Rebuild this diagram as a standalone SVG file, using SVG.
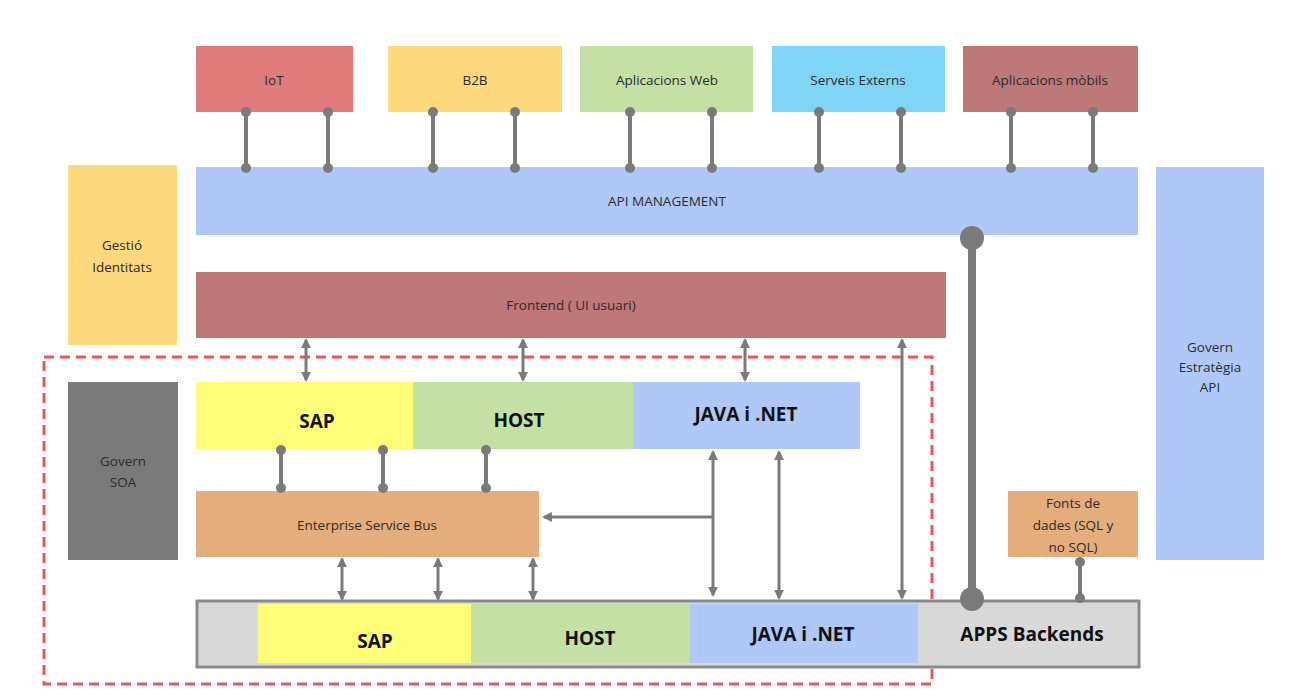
<svg xmlns="http://www.w3.org/2000/svg" width="1295" height="697" viewBox="0 0 1295 697">
<defs>
<style>
.t{font-family:"Open Sans","Liberation Sans",sans-serif;font-size:13.5px;fill:#2b2b2b;text-anchor:middle}
.b{font-family:"Open Sans","Liberation Sans",sans-serif;font-size:19px;font-weight:bold;fill:#111;text-anchor:middle}
.ln{stroke:#7a7a7a;stroke-width:4;fill:none}
.dot{fill:#7a7a7a}
.da{stroke:#7a7a7a;stroke-width:3;fill:none;marker-start:url(#ah);marker-end:url(#ah)}
</style>
<marker id="ah" viewBox="0 0 10 10" refX="8" refY="5" markerWidth="3.3" markerHeight="3.3" orient="auto-start-reverse"><path d="M0,0 L10,5 L0,10 z" fill="#7a7a7a"/></marker>
</defs>
<rect width="1295" height="697" fill="#fff"/>
<rect x="44" y="357" width="888" height="327" fill="none" stroke="#f0545c" stroke-width="3" stroke-dasharray="10,6"/>

<g id="iot"><rect x="196" y="46" width="157" height="66" fill="#e07b7b"/><text class="t" x="274" y="85">IoT</text></g>
<g id="b2b"><rect x="388" y="46" width="174" height="66" fill="#fdd87c"/><text class="t" x="475" y="85">B2B</text></g>
<g id="web"><rect x="580" y="46" width="173" height="66" fill="#c5e0a5"/><text class="t" x="667" y="85">Aplicacions Web</text></g>
<g id="serveis"><rect x="772" y="46" width="173" height="66" fill="#7fd5f5"/><text class="t" x="858" y="85">Serveis Externs</text></g>
<g id="mobils"><rect x="963" y="46" width="175" height="66" fill="#bf7878"/><text class="t" x="1050" y="85">Aplicacions mòbils</text></g>
<g id="api"><rect x="196" y="167" width="942" height="68" fill="#b0c8f8"/><text class="t" x="667" y="206">API MANAGEMENT</text></g>
<g id="gestio"><rect x="68" y="165" width="109" height="180" fill="#fdd87c"/><text class="t" x="122" y="250">Gestió</text><text class="t" x="122" y="272">Identitats</text></g>
<g id="governapi"><rect x="1156" y="167" width="108" height="393" fill="#b0c8f8"/><text class="t" x="1210" y="352">Govern</text><text class="t" x="1210" y="372">Estratègia</text><text class="t" x="1210" y="392">API</text></g>
<g id="frontend"><rect x="196" y="272" width="750" height="66" fill="#bf7878"/><text class="t" x="571" y="310">Frontend ( UI usuari)</text></g>
<g id="governsoa"><rect x="68" y="382" width="110" height="178" fill="#7a7a7a"/><text class="t" x="123" y="466">Govern</text><text class="t" x="123" y="487">SOA</text></g>
<g id="sap1"><rect x="196" y="382" width="217" height="67" fill="#fdfd78"/><text class="b" x="317" y="428">SAP</text></g>
<g id="host1"><rect x="413" y="382" width="220" height="67" fill="#c5e0a5"/><text class="b" x="519" y="427">HOST</text></g>
<g id="java1"><rect x="633" y="382" width="227" height="67" fill="#b0c8f8"/><text class="b" x="746" y="421">JAVA i .NET</text></g>
<g id="esb"><rect x="196" y="491" width="343" height="66" fill="#e3ad7c"/><text class="t" x="367" y="530">Enterprise Service Bus</text></g>
<g id="fonts"><rect x="1008" y="491" width="130" height="66" fill="#e3ad7c"/><text class="t" x="1073" y="508">Fonts de</text><text class="t" x="1073" y="530">dades (SQL y</text><text class="t" x="1073" y="552">no SQL)</text></g>
<g id="backends"><rect x="197" y="601" width="942" height="66" fill="#d9d9d9" stroke="#8a8a8a" stroke-width="3"/>
<rect x="258" y="604" width="213" height="59" fill="#fdfd78"/><text class="b" x="375" y="648">SAP</text>
<rect x="471" y="604" width="219" height="59" fill="#c5e0a5"/><text class="b" x="590" y="645">HOST</text>
<rect x="690" y="604" width="228" height="59" fill="#b0c8f8"/><text class="b" x="803" y="641">JAVA i .NET</text>
<text class="b" x="1032" y="641">APPS Backends</text></g>

<g id="connectors">
<g class="ln">
<path d="M246,112V168M328,112V168M433,112V168M515,112V168M630,112V168M712,112V168M819,112V168M901,112V168M1011,112V168M1093,112V168"/>
<path d="M281,450V490M383,450V490M486,450V490"/>
<path d="M1080,561V599"/>
</g>
<g class="dot">
<circle cx="246" cy="112" r="5"/><circle cx="246" cy="168" r="5"/><circle cx="328" cy="112" r="5"/><circle cx="328" cy="168" r="5"/>
<circle cx="433" cy="112" r="5"/><circle cx="433" cy="168" r="5"/><circle cx="515" cy="112" r="5"/><circle cx="515" cy="168" r="5"/>
<circle cx="630" cy="112" r="5"/><circle cx="630" cy="168" r="5"/><circle cx="712" cy="112" r="5"/><circle cx="712" cy="168" r="5"/>
<circle cx="819" cy="112" r="5"/><circle cx="819" cy="168" r="5"/><circle cx="901" cy="112" r="5"/><circle cx="901" cy="168" r="5"/>
<circle cx="1011" cy="112" r="5"/><circle cx="1011" cy="168" r="5"/><circle cx="1093" cy="112" r="5"/><circle cx="1093" cy="168" r="5"/>
<circle cx="281" cy="450" r="5"/><circle cx="281" cy="488" r="5"/><circle cx="383" cy="450" r="5"/><circle cx="383" cy="488" r="5"/>
<circle cx="486" cy="450" r="5"/><circle cx="486" cy="488" r="5"/>
<circle cx="1080" cy="562" r="5"/><circle cx="1080" cy="598" r="5"/>
</g>
<path d="M972,238V600" stroke="#7a7a7a" stroke-width="8"/>
<circle cx="972" cy="238" r="12" fill="#7a7a7a"/><circle cx="972" cy="599" r="12" fill="#7a7a7a"/>
<line class="da" x1="306" y1="340" x2="306" y2="380"/>
<line class="da" x1="523" y1="340" x2="523" y2="380"/>
<line class="da" x1="745" y1="340" x2="745" y2="380"/>
<line class="da" x1="902" y1="340" x2="902" y2="598"/>
<line class="da" x1="713" y1="452" x2="713" y2="595"/>
<line class="da" x1="779" y1="452" x2="779" y2="598"/>
<line class="da" x1="342" y1="559" x2="342" y2="599"/>
<line class="da" x1="438" y1="559" x2="438" y2="599"/>
<line class="da" x1="533" y1="559" x2="533" y2="599"/>
<path d="M713,517H544" stroke="#7a7a7a" stroke-width="3" fill="none" marker-end="url(#ah)"/>
</g>
</svg>
